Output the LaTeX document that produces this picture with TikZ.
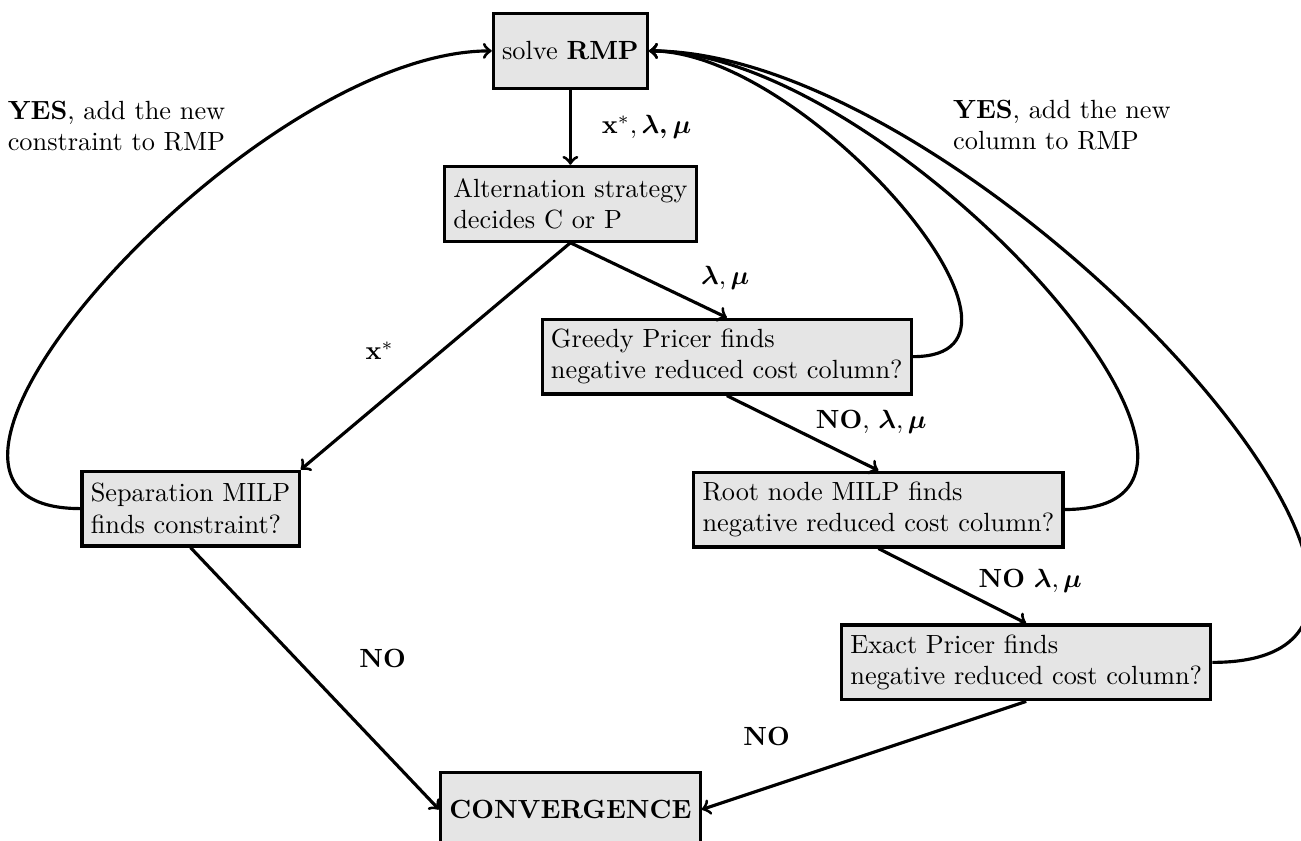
\documentclass[tikz,border=0pt]{standalone}
\usepackage{amsmath,amssymb}
\usepackage{xcolor}
\usepackage{tikz}
\usetikzlibrary{positioning}

\begin{document}
\begin{tikzpicture}[
  node distance=1cm,
  box/.style={draw, very thick, fill=gray!20, align=left, minimum height=1cm},
  flow/.style={draw, very thick, ->},
  every edge/.style={flow}
]
\useasboundingbox (-7.62,0.68) rectangle (9.76,-10.55);

\node[box] (rmp) at (0,0) {solve \textbf{RMP}};
\node[box, below=of rmp] (alt) {Alternation strategy\\decides C or P};
\node[box, below right=1cm and -2.1cm of alt] (greedy)
     {Greedy Pricer finds\\negative reduced cost column?};
\node[box, below right=1cm and -2.95cm of greedy] (root)
     {Root node MILP finds\\negative reduced cost column?};
\node[box, below right=1cm and -3cm of root] (exact)
     {Exact Pricer finds\\negative reduced cost column?};
\node[box, below left=3.03cm and 1.9cm of alt] (sep)
     {Separation MILP\\finds constraint?};
\node[box, below=7.05cm of alt] (conv) {\textbf{CONVERGENCE}};

\draw (rmp) edge node[right=8pt] {$\mathbf{x}^*, \boldsymbol{\lambda, \mu}$} (alt);
\draw (alt.south) edge node[pos=0.77, above right] {$\boldsymbol{\lambda}, \boldsymbol{\mu}$} (greedy.north);
\draw (alt.south) edge node[midway, left=12pt, yshift=2pt] {$\mathbf{x}^*$} (sep.north east);
\draw (greedy.south) edge node[pos=0.56, anchor=south west, inner sep=1pt]
      {\textbf{NO}, $\boldsymbol{\lambda}, \boldsymbol{\mu}$} (root.north);
\draw (root.south) edge node[pos=0.65, anchor=south west, inner sep=1pt]
      {\textbf{NO} $\boldsymbol{\lambda}, \boldsymbol{\mu}$} (exact.north);
\draw (exact.south) edge node[pos=0.8, above=12pt] {\textbf{NO}} (conv.east);
\draw (sep.south) edge node[midway, above right=0pt and 13pt] {\textbf{NO}} (conv.west);

\draw[flow] (sep.west) to[out=180, in=180]
      node[pos=0.68, above left, align=left] {\textbf{YES}, add the new\\constraint to RMP} (rmp.west);
\draw[flow] (greedy.east) to[out=0, in=0] (rmp.east);
\draw[flow] (root.east) to[out=0, in=0] (rmp.east);
\draw[flow] (exact.east) to[out=0, in=0]
      node[pos=0.73, above right, align=left] {\textbf{YES}, add the new\\column to RMP} (rmp.east);
\end{tikzpicture}
\end{document}
